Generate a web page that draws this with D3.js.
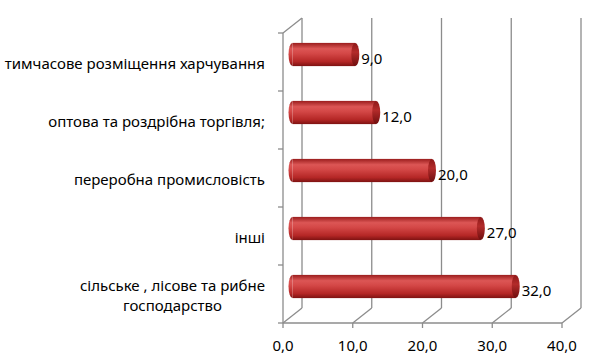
<!DOCTYPE html>
<meta charset="utf-8">
<style>
body { margin: 0; background: #fff; }
text { font-family: "Noto Sans", "Open Sans", sans-serif; fill: #000; }
.frame { stroke: #8c8c8c; stroke-width: 1.3; fill: none; }
</style>
<body>
<script src="https://cdnjs.cloudflare.com/ajax/libs/d3/7.8.5/d3.min.js"></script>
<script>
// data, top to bottom
var categories = ["тимчасове розміщення харчування", "оптова та роздрібна торгівля;",
                  "переробна промисловість", "інші", "сільське , лісове та рибне\nгосподарство"];
var values = [9.0, 12.0, 20.0, 27.0, 32.0];
var ticks = [0, 10, 20, 30, 40];

var width = 615, height = 364;
var dx = 19, dy = -15;   // 3d depth offset

var svg = d3.select("body").append("svg")
    .attr("width", width).attr("height", height);

var x = d3.scaleLinear().domain([0, 40]).range([283, 562]);
var y = d3.scaleBand().domain(categories).range([33, 323])
    .paddingInner(0.6).paddingOuter(0.3);
var y0 = 33, y1 = 323;

// gradients for the cylinders
var defs = svg.append("defs");
var g = defs.append("linearGradient").attr("id", "body")
    .attr("x1", 0).attr("y1", 0).attr("x2", 0).attr("y2", 1);
[[0, "#9a1d1d"], [0.25, "#dc5655"], [0.45, "#d44847"], [0.8, "#b52726"], [1, "#7e1212"]]
  .forEach(function(s) { g.append("stop").attr("offset", s[0]).attr("stop-color", s[1]); });
var gc = defs.append("linearGradient").attr("id", "cap")
    .attr("x1", 0).attr("y1", 0).attr("x2", 0).attr("y2", 1);
[[0, "#8c1818"], [0.4, "#b32b2a"], [1, "#6e0e0e"]]
  .forEach(function(s) { gc.append("stop").attr("offset", s[0]).attr("stop-color", s[1]); });

// walls and grid
var frame = svg.append("g").attr("class", "frame");
ticks.forEach(function(t) {
  // back wall gridline
  frame.append("line").attr("x1", x(t) + dx).attr("x2", x(t) + dx)
    .attr("y1", y0 + dy).attr("y2", y1 + dy);
  // floor line
  frame.append("line").attr("x1", x(t)).attr("x2", x(t) + dx)
    .attr("y1", y1).attr("y2", y1 + dy);
  // tick
  frame.append("line").attr("x1", x(t)).attr("x2", x(t))
    .attr("y1", y1).attr("y2", y1 + 5);
});
// left wall
frame.append("line").attr("x1", x(0)).attr("x2", x(0)).attr("y1", y0).attr("y2", y1);
frame.append("line").attr("x1", x(0)).attr("x2", x(0) + dx).attr("y1", y0).attr("y2", y0 + dy);
frame.append("line").attr("x1", x(0)).attr("x2", x(40)).attr("y1", y1).attr("y2", y1);
var bounds = categories.map(function(c) { return y(c) - y.step() * y.paddingOuter(); }).concat([y1]);
bounds.forEach(function(b) {
  frame.append("line").attr("x1", x(0) - 5).attr("x2", x(0)).attr("y1", b).attr("y2", b);
});

// x tick labels
svg.append("g").selectAll("text").data(ticks).enter().append("text")
  .attr("x", function(d) { return x(d); })
  .attr("y", 351)
  .attr("text-anchor", "middle")
  .style("font-size", "15px")
  .text(function(d) { return d3.format(".1f")(d).replace(".", ","); });

// bars as cylinders at mid depth
var mx = dx / 2, my = dy / 2, rx = 4;
var bars = svg.append("g").selectAll("g").data(values).enter().append("g");
bars.append("rect")
  .attr("x", x(0) + mx)
  .attr("y", function(d, i) { return y(categories[i]) + my; })
  .attr("width", function(d) { return x(d) - x(0); })
  .attr("height", y.bandwidth())
  .attr("fill", "url(#body)");
bars.append("path")   // rounded left end
  .attr("d", function(d, i) {
    var cy = y(categories[i]) + my + y.bandwidth() / 2, r = y.bandwidth() / 2;
    var cx = x(0) + mx;
    return "M" + cx + "," + (cy - r) + "A" + rx + "," + r + " 0 0 0 " + cx + "," + (cy + r) + "Z";
  })
  .attr("fill", "url(#body)");
bars.append("ellipse")  // right cap
  .attr("cx", function(d) { return x(d) + mx; })
  .attr("cy", function(d, i) { return y(categories[i]) + my + y.bandwidth() / 2; })
  .attr("rx", rx)
  .attr("ry", y.bandwidth() / 2)
  .attr("fill", "url(#cap)");

// value labels
bars.append("text")
  .attr("x", function(d) { return x(d) + mx + rx + 2; })
  .attr("y", function(d, i) { return y(categories[i]) + my + y.bandwidth() / 2 + 4; })
  .attr("dy", "0.35em")
  .style("font-size", "15px")
  .text(function(d) { return d3.format(".1f")(d).replace(".", ","); });

// category labels
var labels = svg.append("g").selectAll("text").data(categories).enter().append("text")
  .attr("text-anchor", "end")
  .style("font-size", "15px")
  .attr("y", function(d) { return y(d) + y.bandwidth() / 2 + 2; });
labels.each(function(d) {
  var lines = d.split("\n"), t = d3.select(this);
  lines.forEach(function(l, k) {
    t.append("tspan").attr("x", 265)
      .attr("dy", k == 0 ? (0.35 - (lines.length - 1) * 0.7) + "em" : "1.35em")
      .text(l);
  });
});
// second line of the last label is centred under the first
var last = labels.filter(function(d, i) { return i == categories.length - 1; });
var w1 = last.select("tspan").node().getComputedTextLength();
last.selectAll("tspan").filter(function(d, k) { return k == 1; })
  .attr("x", 265 - w1 / 2).attr("text-anchor", "middle");
</script>
</body>
